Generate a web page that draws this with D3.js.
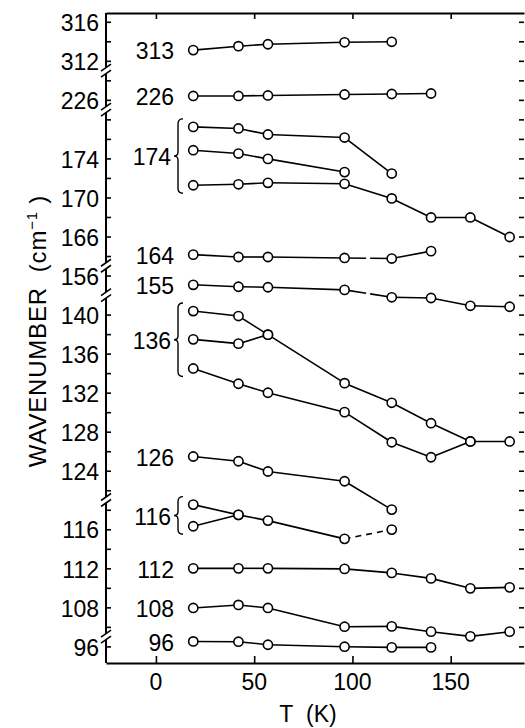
<!DOCTYPE html>
<html>
<head>
<meta charset="utf-8">
<script src="https://cdn.jsdelivr.net/npm/d3@7"></script>
<style>
  body { margin: 0; background: #fff; }
  svg { display: block; }
  text { font-family: "Liberation Sans", Arial, sans-serif; fill: #000; }
</style>
</head>
<body>
<svg id="chart" width="525" height="728"></svg>
<script>
// temperatures (K) at which the spectra were taken
var temps = [19, 42, 57, 96, 120, 140, 160, 180];

// band positions (cm-1), one array per curve, in order of temps
var v313 = [313.1, 313.5, 313.7, 313.9, 313.95];
var v226 = [226.4, 226.4, 226.45, 226.55, 226.6, 226.65];
var v174a = [177.23, 177.07, 176.45, 176.14, 172.45];
var v174b = [174.84, 174.5, 173.95, 172.6];
var v174c = [171.25, 171.35, 171.5, 171.4, 169.9, 167.95, 167.95, 165.95];
var v164 = [164.14, 163.9, 163.9, 163.8, 163.74, 164.5];
var v155 = [155.05, 154.85, 154.8, 154.53, 153.77, 153.7, 152.9, 152.8];
var v136a = [140.36, 139.85, 137.94, 132.97, 130.96, 128.87, 127.0, 127.0];
var v136b = [137.46, 137.02, 137.94];
var v136c = [134.48, 132.91, 131.99, 130.0, 126.92, 125.38, 127.0];
var v126 = [125.46, 124.97, 123.92, 122.92, 120.02];
var v116a = [118.53, 117.48, 116.89, 115.02, 115.97];
var v116b = [116.31, 117.48];
var v112 = [112.0, 112.0, 112.0, 111.94, 111.53, 110.97, 109.95, 110.05];
var v108 = [107.94, 108.25, 107.94, 106.02, 106.05, 105.51, 105.03, 105.51];
var v96 = [96.51, 96.48, 96.17, 95.97, 95.9, 95.9];

var groupLabels = ['313', '226', '174', '164', '155', '136', '126', '116', '112', '108', '96'];
var groupCurves = [[v313], [v226], [v174a, v174b, v174c], [v164], [v155],
                   [v136a, v136b, v136c], [v126], [v116a, v116b], [v112], [v108], [v96]];

// segments drawn dashed / with a small break: [curve, index of segment start]
var dashedSegs = [[v116a, 3]];
var brokenSegs = [[v164, 3], [v155, 3]];

// broken y axis: value extent of each piece, its ticks and labelled ticks
var segExtents = [[316.9, 311], [229, 225], [179, 163], [157, 154], [142, 121], [119, 105], [97, 94.3]];
var segTicks = [[316, 314, 312], [228, 226], d3.range(178, 163, -2), [156],
                d3.range(140, 121, -2), d3.range(118, 105, -2), [96]];
var yTickLabels = [316, 312, 226, 174, 170, 166, 156, 140, 136, 132, 128, 124, 116, 112, 108, 96];
var xTickValues = [0, 50, 100, 150];

var plot = { left: 106, right: 524, top: 13, bottom: 663 };
var svg = d3.select('#chart');

var x = d3.scaleLinear().domain([-25.4, 187.3]).range([plot.left, plot.right]);

// one linear scale per axis piece, same px per unit everywhere
var totalUnits = d3.sum(segExtents, function(e) { return e[0] - e[1]; });
var pxPerUnit = (plot.bottom - plot.top) / totalUnits;
var offset = 0;
var segments = segExtents.map(function(e, i) {
    var y0 = plot.top + offset * pxPerUnit;
    offset += e[0] - e[1];
    var y1 = plot.top + offset * pxPerUnit;
    return { scale: d3.scaleLinear().domain(e).range([y0, y1]), ticks: segTicks[i] };
});
function segFor(v) {
    var best = segments[0], bestD = Infinity;
    segments.forEach(function(s) {
        var d = s.scale.domain();
        var dist = v > d[0] ? v - d[0] : (v < d[1] ? d[1] - v : 0);
        if (dist < bestD) { bestD = dist; best = s; }
    });
    return best;
}

var axisLayer = svg.append('g');
var lineLayer = svg.append('g');
var dotLayer = svg.append('g');

// left axis, piece by piece
segments.forEach(function(s, i) {
    var g = axisLayer.append('g')
        .attr('transform', 'translate(' + plot.left + ',0)')
        .call(d3.axisRight(s.scale).tickValues(s.ticks).tickSize(5).tickSizeOuter(0).tickFormat(''));
    g.select('.domain').remove();
    g.selectAll('line').attr('stroke-width', 1.6);
    var r = s.scale.range();
    var a = i === 0 ? r[0] : r[0] + 3;
    var b = i === segments.length - 1 ? r[1] : r[1] - 3;
    g.append('line').attr('y1', a).attr('y2', b)
        .attr('stroke', '#000').attr('stroke-width', 2);
    if (i < segments.length - 1) {
        [-3, 3].forEach(function(dy) {
            g.append('line')
                .attr('x1', -5).attr('y1', r[1] + dy + 3.5)
                .attr('x2', 5).attr('y2', r[1] + dy - 3.5)
                .attr('stroke', '#000').attr('stroke-width', 1.6);
        });
    }
});

axisLayer.selectAll('text.ylab')
    .data(yTickLabels).enter().append('text')
    .attr('class', 'ylab')
    .attr('x', plot.left - 7)
    .attr('y', function(d) { return segFor(d).scale(d); })
    .attr('dy', '0.4em')
    .attr('text-anchor', 'end')
    .style('font-size', '23px')
    .text(function(d) { return d; });

// right edge: evenly spaced ticks, one per 2 cm-1 slot
var slot = d3.scaleLinear().domain([0, 32]).range([segments[0].scale(316), segments[6].scale(96)]);
var rightAxis = axisLayer.append('g')
    .attr('transform', 'translate(' + plot.right + ',0)')
    .call(d3.axisLeft(slot).tickValues(d3.range(0, 33)).tickSize(5).tickFormat(''));
rightAxis.select('.domain').remove();
rightAxis.selectAll('line').attr('stroke-width', 1.6);

// top and bottom frame
var topAxis = axisLayer.append('g')
    .attr('transform', 'translate(0,' + plot.top + ')')
    .call(d3.axisBottom(x).tickValues(xTickValues).tickSize(6).tickSizeOuter(0).tickFormat(''));
var bottomAxis = axisLayer.append('g')
    .attr('transform', 'translate(0,' + plot.bottom + ')')
    .call(d3.axisTop(x).tickValues(xTickValues).tickSize(7).tickSizeOuter(0).tickFormat(''));
[topAxis, bottomAxis].forEach(function(g) {
    g.select('.domain').attr('stroke-width', 2);
    g.selectAll('line').attr('stroke-width', 1.6);
});
axisLayer.selectAll('text.xlab')
    .data(xTickValues).enter().append('text')
    .attr('class', 'xlab')
    .attr('x', function(d) { return x(d); })
    .attr('y', plot.bottom + 27)
    .attr('text-anchor', 'middle')
    .style('font-size', '23px')
    .text(function(d) { return d; });

axisLayer.append('text')
    .attr('x', 308).attr('y', 722)
    .attr('text-anchor', 'middle')
    .style('font-size', '23px')
    .text('T\u00a0\u00a0(K)');

var yTitle = axisLayer.append('text')
    .attr('transform', 'translate(46,331) rotate(-90)')
    .attr('text-anchor', 'middle')
    .style('font-size', '24px')
    .style('letter-spacing', '0.8px');
yTitle.append('tspan').text('WAVENUMBER\u00a0\u00a0(cm');
yTitle.append('tspan').attr('dy', -9).style('font-size', '15px').text('\u22121');
yTitle.append('tspan').attr('dy', 9).text('\u00a0)');

// curves
function isIn(list, curve, i) {
    return list.some(function(d) { return d[0] === curve && d[1] === i; });
}
groupCurves.forEach(function(curves, gi) {
    var seg = segFor(curves[0][0]);
    curves.forEach(function(vals) {
        var pts = vals.map(function(v, i) { return [x(temps[i]), seg.scale(v)]; });
        d3.pairs(pts).forEach(function(p, i) {
            var len = Math.hypot(p[1][0] - p[0][0], p[1][1] - p[0][1]);
            var ln = lineLayer.append('line')
                .attr('x1', p[0][0]).attr('y1', p[0][1])
                .attr('x2', p[1][0]).attr('y2', p[1][1])
                .attr('stroke', '#000').attr('stroke-width', 1.6);
            if (isIn(dashedSegs, vals, i)) ln.attr('stroke-dasharray', '6,5');
            if (isIn(brokenSegs, vals, i)) ln.attr('stroke-dasharray', (len / 2 - 2) + ',4,' + len);
        });
        dotLayer.selectAll(null).data(pts).enter().append('circle')
            .attr('cx', function(d) { return d[0]; })
            .attr('cy', function(d) { return d[1]; })
            .attr('r', 4.6)
            .attr('fill', '#fff').attr('stroke', '#000').attr('stroke-width', 1.6);
    });

    // label and brace
    var firsts = curves.map(function(c) { return seg.scale(c[0]); });
    var yMin = d3.min(firsts), yMax = d3.max(firsts), yMid = (yMin + yMax) / 2;
    var braced = curves.length > 1;
    axisLayer.append('text')
        .attr('x', braced ? 171 : 174)
        .attr('y', yMid)
        .attr('dy', '0.4em')
        .attr('text-anchor', 'end')
        .style('font-size', '23px')
        .text(groupLabels[gi]);
    if (braced) {
        var y1 = yMin - 8, y2 = yMax + 8, xb = 178;
        var p = d3.path();
        p.moveTo(xb + 5, y1);
        p.quadraticCurveTo(xb, y1, xb, y1 + 5);
        p.lineTo(xb, yMid - 4);
        p.quadraticCurveTo(xb, yMid, xb - 4, yMid);
        p.quadraticCurveTo(xb, yMid, xb, yMid + 4);
        p.lineTo(xb, y2 - 5);
        p.quadraticCurveTo(xb, y2, xb + 5, y2);
        axisLayer.append('path').attr('d', p.toString())
            .attr('fill', 'none').attr('stroke', '#000').attr('stroke-width', 1.4);
    }
});
</script>
</body>
</html>
